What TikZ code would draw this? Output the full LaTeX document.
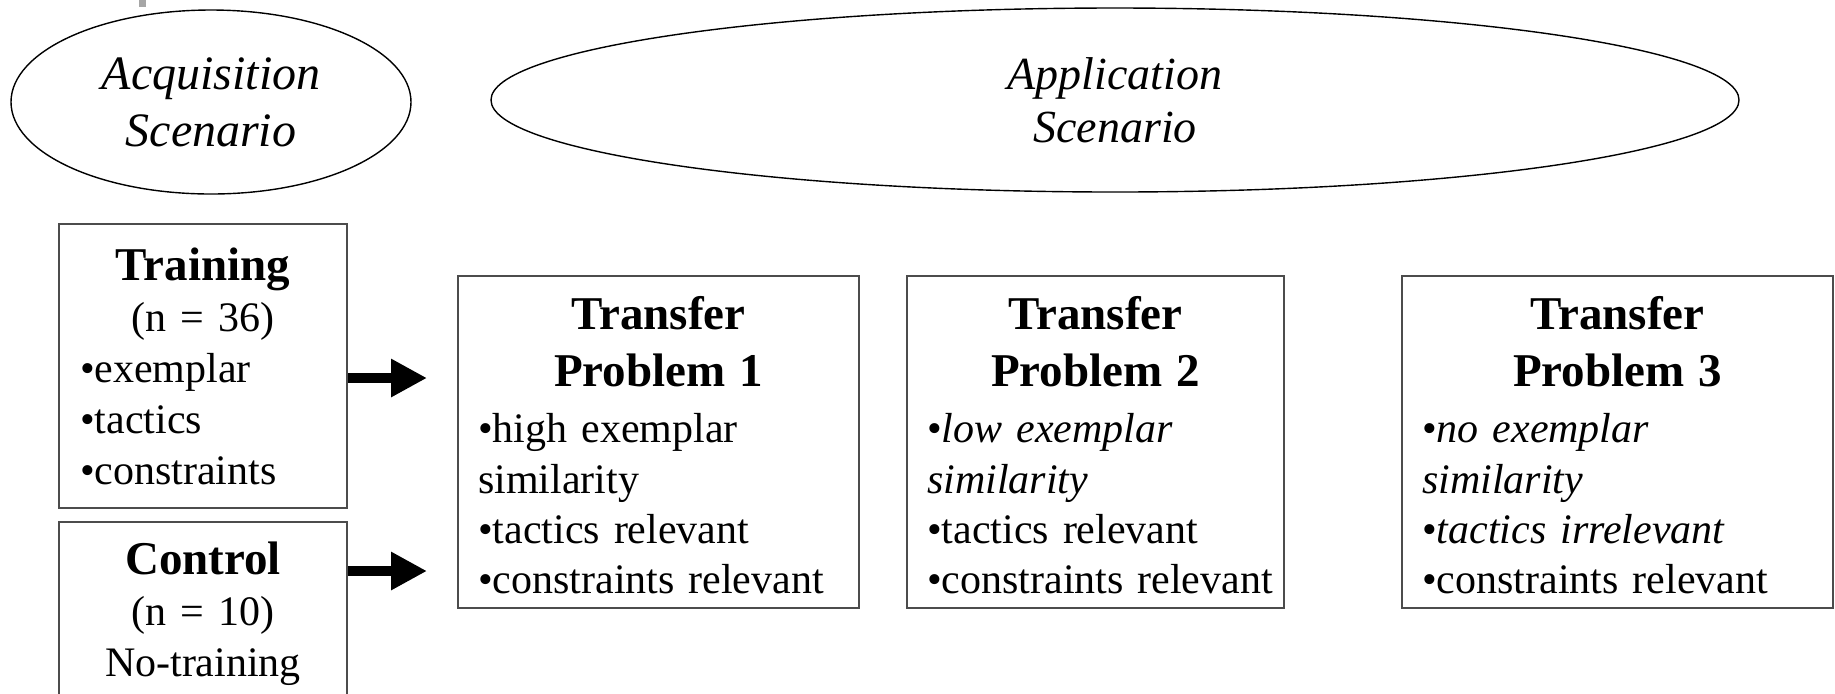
\documentclass[tikz,border=0pt]{standalone}
\usepackage{fontspec}
\setmainfont{Liberation Serif}
\usetikzlibrary{arrows.meta,shapes.geometric}

\newcommand{\bitem}[1]{\mbox{\textbullet#1}}

\begin{document}
\begin{tikzpicture}[x=0.5pt, y=-0.5pt,
  scenario/.style={ellipse, draw, line width=0.7pt, inner sep=0pt,
    minimum height=92pt, text width=120pt, align=center},
  groupbox/.style={draw=black!70, line width=1pt, inner ysep=0pt, inner xsep=10.5pt,
    text width=123pt, align=left, font=\fontsize{21}{25.5}\selectfont},
  probbox/.style={draw=black!70, line width=1pt, inner ysep=0pt, inner xsep=10pt,
    minimum height=166pt, align=left, font=\fontsize{21}{25.2}\selectfont},
  fatarrow/.style={line width=5pt, -{Triangle[length=18pt, width=18pt]}}
]

% Frame
\path[use as bounding box] (0,0) rectangle (1835,693);
\clip (0,0) rectangle (1835,693);
\fill[gray!70] (139,0) rectangle (146,7);

% Scenarios
\node[scenario, minimum width=200pt, font=\fontsize{24}{28.5}\selectfont\itshape]
  (acq) at (211,102) {Acquisition\\Scenario};
\node[scenario, minimum width=624pt, font=\fontsize{23}{26.5}\selectfont\itshape]
  (app) at (1115,100) {Application\\Scenario};

% Groups
\node[groupbox, minimum width=144pt, minimum height=142pt] (train) at (203,366) {%
  {\centering\fontsize{23.5}{25.5}\selectfont\bfseries Training\\
   \mdseries\fontsize{21}{25.5}\selectfont (n = 36)\par}
  \bitem{exemplar}\\
  \bitem{tactics}\\
  \bitem{constraints}};
\node[groupbox, minimum width=144pt, minimum height=91.5pt] (ctrl) at (203,613.5) {%
  {\centering\fontsize{23.5}{25.5}\selectfont\bfseries Control\\
   \mdseries\fontsize{21}{25.5}\selectfont (n = 10)\\
   No-training\par}};

% Transfer problems
\node[probbox, text width=180.5pt] (tp1) at (658.5,442) {%
  {\centering\fontsize{23.5}{28.5}\selectfont\bfseries\rule{0pt}{19.8pt}Transfer\\ Problem 1\par}
  \vspace{3pt}
  \bitem{high exemplar}\\
  similarity\\
  \bitem{tactics relevant}\\
  \bitem{constraints relevant}};
\node[probbox, text width=168.5pt] (tp2) at (1095.5,442) {%
  {\centering\fontsize{23.5}{28.5}\selectfont\bfseries\rule{0pt}{19.8pt}Transfer\\ Problem 2\par}
  \vspace{3pt}
  \bitem{\textit{low exemplar}}\\
  \textit{similarity}\\
  \bitem{tactics relevant}\\
  \bitem{constraints relevant}};
\node[probbox, text width=195.5pt] (tp3) at (1617.5,442) {%
  {\centering\fontsize{23.5}{28.5}\selectfont\bfseries\rule{0pt}{19.8pt}Transfer\\ Problem 3\par}
  \vspace{3pt}
  \bitem{\textit{no exemplar}}\\
  \textit{similarity}\\
  \bitem{\textit{tactics irrelevant}}\\
  \bitem{constraints relevant}};

% Arrows
\coordinate (t1) at (427,378);
\coordinate (c1) at (427,571);
\draw[fatarrow] (train.east |- t1) -- (t1);
\draw[fatarrow] (ctrl.east |- c1) -- (c1);

\end{tikzpicture}
\end{document}
